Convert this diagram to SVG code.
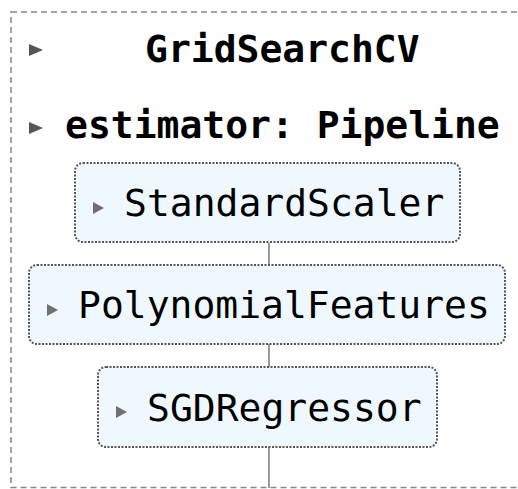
<svg xmlns="http://www.w3.org/2000/svg" width="518" height="489" viewBox="0 0 518 489">
<style>
.t{font-family:"DejaVu Sans Mono","Liberation Mono",monospace;font-size:38px;fill:#000}
.b{font-weight:bold}
.box{fill:#f0f8ff;stroke:#555;stroke-width:2;stroke-dasharray:2 1.5}
.tri{fill:#707070}
.htri{fill:#555}
.con{stroke:#999;stroke-width:2;fill:none}
</style>
<rect x="11" y="12" width="520" height="475.5" fill="none" stroke="#888" stroke-width="1.5" stroke-dasharray="6 4"/>
<g id="connectors">
<line class="con" x1="269" y1="243" x2="269" y2="265"/>
<line class="con" x1="269" y1="344" x2="269" y2="367"/>
<line class="con" x1="269" y1="447" x2="269" y2="488"/>
</g>
<g id="gridsearchcv">
<polygon class="htri" points="29,44 43,50 29,56"/>
<text class="t b" x="145" y="62">GridSearchCV</text>
</g>
<g id="estimator">
<polygon class="htri" points="29,122 43,128 29,134"/>
<text class="t b" x="65" y="138">estimator: Pipeline</text>
</g>
<g id="standardscaler">
<rect class="box" x="75" y="163" width="385" height="79" rx="8"/>
<polygon class="tri" points="93,202 104,208 93,214"/>
<text class="t" x="124" y="216">StandardScaler</text>
</g>
<g id="polynomialfeatures">
<rect class="box" x="29" y="265" width="476" height="79" rx="8"/>
<polygon class="tri" points="47,304 58,310 47,316"/>
<text class="t" x="78" y="318">PolynomialFeatures</text>
</g>
<g id="sgdregressor">
<rect class="box" x="98" y="367" width="339" height="80" rx="8"/>
<polygon class="tri" points="116,406 127,412 116,418"/>
<text class="t" x="147" y="421">SGDRegressor</text>
</g>
</svg>
